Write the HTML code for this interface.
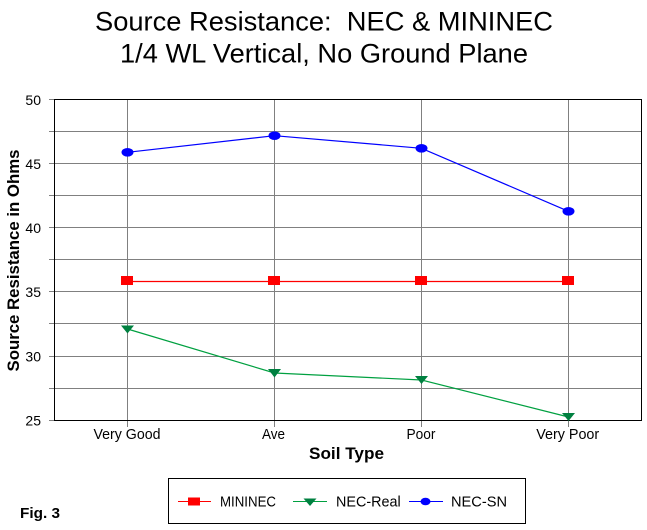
<!DOCTYPE html>
<html><head><meta charset="utf-8"><style>
html,body{margin:0;padding:0;background:#fff;}
svg{display:block;}
text{font-family:"Liberation Sans",Arial,sans-serif;fill:#000;}
</style></head><body>
<svg width="647" height="530" viewBox="0 0 647 530" xmlns="http://www.w3.org/2000/svg">
<rect x="0" y="0" width="647" height="530" fill="#fff"/>
<!-- Title -->
<text x="324" y="30.5" font-size="27" text-anchor="middle" textLength="458" lengthAdjust="spacingAndGlyphs">Source Resistance:&#160; NEC &amp; MININEC</text>
<text x="324" y="62.5" font-size="27" text-anchor="middle" textLength="408" lengthAdjust="spacingAndGlyphs">1/4 WL Vertical, No Ground Plane</text>

<!-- horizontal gridlines -->
<g stroke="#808080" stroke-width="1" shape-rendering="crispEdges">
<line x1="49" y1="99.5" x2="641" y2="99.5"/>
<line x1="49" y1="131.5" x2="641" y2="131.5"/>
<line x1="49" y1="163.5" x2="641" y2="163.5"/>
<line x1="49" y1="195.5" x2="641" y2="195.5"/>
<line x1="49" y1="227.5" x2="641" y2="227.5"/>
<line x1="49" y1="259.5" x2="641" y2="259.5"/>
<line x1="49" y1="291.5" x2="641" y2="291.5"/>
<line x1="49" y1="323.5" x2="641" y2="323.5"/>
<line x1="49" y1="356.5" x2="641" y2="356.5"/>
<line x1="49" y1="388.5" x2="641" y2="388.5"/>
<line x1="49" y1="420.5" x2="641" y2="420.5"/>
<!-- vertical gridlines -->
<line x1="127.5" y1="99" x2="127.5" y2="427"/>
<line x1="274.5" y1="99" x2="274.5" y2="427"/>
<line x1="421.5" y1="99" x2="421.5" y2="427"/>
<line x1="568.5" y1="99" x2="568.5" y2="427"/>
</g>
<!-- plot border -->
<g stroke="#000" stroke-width="1" shape-rendering="crispEdges" fill="none">
<line x1="54" y1="99.5" x2="641.5" y2="99.5"/>
<line x1="641.5" y1="99" x2="641.5" y2="421"/>
<line x1="54" y1="420.5" x2="641.5" y2="420.5"/>
<line x1="54.5" y1="99" x2="54.5" y2="421"/>
</g>

<!-- y tick labels -->
<g font-size="14" text-anchor="end">
<text x="41" y="105">50</text>
<text x="41" y="169">45</text>
<text x="41" y="233">40</text>
<text x="41" y="297">35</text>
<text x="41" y="361.5">30</text>
<text x="41" y="425.5">25</text>
</g>
<!-- x tick labels -->
<g font-size="15" text-anchor="middle">
<text x="127" y="439" textLength="67" lengthAdjust="spacingAndGlyphs">Very Good</text>
<text x="273.5" y="439" textLength="23" lengthAdjust="spacingAndGlyphs">Ave</text>
<text x="421" y="439" textLength="29" lengthAdjust="spacingAndGlyphs">Poor</text>
<text x="567.7" y="439" textLength="63" lengthAdjust="spacingAndGlyphs">Very Poor</text>
</g>

<!-- axis titles -->
<text x="346.5" y="459" font-size="17" font-weight="bold" text-anchor="middle" textLength="75" lengthAdjust="spacingAndGlyphs">Soil Type</text>
<text transform="translate(19,260.5) rotate(-90)" x="0" y="0" font-size="17" font-weight="bold" text-anchor="middle" textLength="222" lengthAdjust="spacingAndGlyphs">Source Resistance in Ohms</text>

<!-- MININEC -->
<polyline points="127,281.5 274,281.5 421,281.5 568,281.5" fill="none" stroke="#ff0000" stroke-width="1.2"/>
<g fill="#ff0000">
<rect x="121" y="276" width="12" height="9"/>
<rect x="268" y="276" width="12" height="9"/>
<rect x="415" y="276" width="12" height="9"/>
<rect x="562" y="276" width="12" height="9"/>
</g>

<!-- NEC-Real -->
<polyline points="127.5,329 274.5,373 421.5,380 568.5,417" fill="none" stroke="#00a040" stroke-width="1.2"/>
<g fill="#008040">
<polygon points="121,325.5 134,325.5 127.5,333.5"/>
<polygon points="268,369 281,369 274.5,377.5"/>
<polygon points="415,376 428,376 421.5,384"/>
<polygon points="562,413 575,413 568.5,421"/>
</g>

<!-- NEC-SN -->
<polyline points="127.5,152.3 274.5,135.7 421.5,148.3 568.5,211.3" fill="none" stroke="#0000ff" stroke-width="1.2"/>
<g fill="#0000ff">
<ellipse cx="127.5" cy="152.3" rx="6" ry="4.3"/>
<ellipse cx="274.5" cy="135.7" rx="6" ry="4.3"/>
<ellipse cx="421.5" cy="148.3" rx="6" ry="4.3"/>
<ellipse cx="568.5" cy="211.3" rx="6" ry="4.3"/>
</g>

<!-- Fig. 3 -->
<text x="20" y="518" font-size="15" font-weight="bold" textLength="40" lengthAdjust="spacingAndGlyphs">Fig. 3</text>

<!-- Legend -->
<rect x="168.5" y="478.5" width="357" height="45" fill="#fff" stroke="#000" stroke-width="1" shape-rendering="crispEdges"/>
<line x1="178" y1="501.5" x2="211" y2="501.5" stroke="#ff0000" stroke-width="1"/>
<rect x="188" y="497.5" width="12" height="8" fill="#ff0000"/>
<text x="220" y="506.5" font-size="15" textLength="56" lengthAdjust="spacingAndGlyphs">MININEC</text>
<line x1="293" y1="501.5" x2="327" y2="501.5" stroke="#00a040" stroke-width="1"/>
<polygon points="303.5,498.5 316.5,498.5 310,506" fill="#008040"/>
<text x="336" y="506.5" font-size="15" textLength="64.7" lengthAdjust="spacingAndGlyphs">NEC-Real</text>
<line x1="409" y1="501.5" x2="443" y2="501.5" stroke="#0000ff" stroke-width="1"/>
<ellipse cx="425.5" cy="501.5" rx="5" ry="3.8" fill="#0000ff"/>
<text x="451" y="506.5" font-size="15" textLength="56" lengthAdjust="spacingAndGlyphs">NEC-SN</text>
</svg>
</body></html>
